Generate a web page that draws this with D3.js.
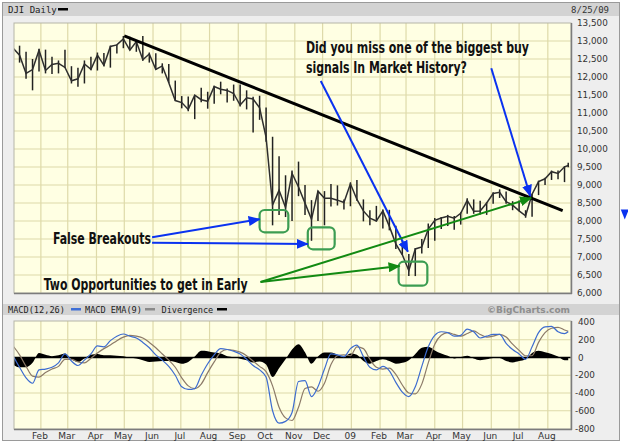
<!DOCTYPE html>
<html>
<head>
<meta charset="utf-8">
<script src="https://cdn.jsdelivr.net/npm/d3@7"></script>
<style>
  html, body { margin: 0; padding: 0; background: #fff; }
  svg { display: block; }
</style>
</head>
<body>
<svg id="chart" width="628" height="446"></svg>
<script>
// weekly bars (week ending)
var weeks = ["2008-01-04","2008-01-11","2008-01-18","2008-01-25","2008-02-01","2008-02-08","2008-02-15","2008-02-22","2008-02-29",
  "2008-03-07","2008-03-14","2008-03-21","2008-03-28","2008-04-04","2008-04-11","2008-04-18","2008-04-25","2008-05-02",
  "2008-05-09","2008-05-16","2008-05-23","2008-05-30","2008-06-06","2008-06-13","2008-06-20","2008-06-27","2008-07-04",
  "2008-07-11","2008-07-18","2008-07-25","2008-08-01","2008-08-08","2008-08-15","2008-08-22","2008-08-29","2008-09-05",
  "2008-09-12","2008-09-19","2008-09-26","2008-10-03","2008-10-10","2008-10-17","2008-10-24","2008-10-31","2008-11-07",
  "2008-11-14","2008-11-21","2008-11-28","2008-12-05","2008-12-12","2008-12-19","2008-12-26","2009-01-02","2009-01-09",
  "2009-01-16","2009-01-23","2009-01-30","2009-02-06","2009-02-13","2009-02-20","2009-02-27","2009-03-06","2009-03-13",
  "2009-03-20","2009-03-27","2009-04-03","2009-04-10","2009-04-17","2009-04-24","2009-05-01","2009-05-08","2009-05-15",
  "2009-05-22","2009-05-29","2009-06-05","2009-06-12","2009-06-19","2009-06-26","2009-07-03","2009-07-10","2009-07-17",
  "2009-07-24","2009-07-31","2009-08-07","2009-08-14","2009-08-21","2009-08-25"];

var high = [13280,12870,12700,12500,12780,12760,12560,12460,12760,12300,12260,12460,12560,12680,12670,12870,12900,13140,
  13120,13000,13140,12680,12660,12380,12360,11900,11470,11460,11500,11700,11590,11760,11870,11680,11790,11790,
  11630,11450,11480,11150,10340,9800,9270,9400,9650,9000,8580,8840,8830,9030,8990,8600,9070,9140,
  8600,8300,8420,8320,8310,7870,7470,7080,7250,7500,7930,8080,8110,8170,8140,8240,8630,8600,
  8560,8520,8800,8880,8820,8550,8570,8300,8760,9120,9200,9400,9400,9520,9620];

var low = [12780,12400,11950,11630,12150,12100,12080,12100,12250,11820,11730,11820,12190,12180,12300,12260,12650,12800,
  12740,12700,12450,12400,12200,12100,11830,11340,11130,11050,10830,11300,11120,11260,11520,11290,11340,11180,
  11100,10460,10810,10200,7880,8170,8110,8000,8690,8170,7450,8000,7880,8400,8430,8320,8410,8560,
  7990,7880,7990,7790,7740,7220,7060,6470,6470,7100,7250,7450,7780,7860,7760,7900,8200,8200,
  8180,8170,8480,8640,8480,8300,8270,8090,8120,8720,9000,9140,9160,9080,9490];

var close = [12800,12606,12099,12207,12743,12182,12348,12381,12266,11894,11951,12361,12216,12609,12325,12849,12891,13058,
  12745,12986,12479,12638,12209,12307,11842,11346,11289,11100,11496,11370,11326,11734,11659,11628,11543,11220,
  11421,11388,11143,10325,8451,8852,8378,9325,8943,8497,8046,8829,8635,8629,8579,8515,9034,8599,
  8281,8077,8000,8280,7850,7366,7062,6627,7223,7278,7776,8017,8083,8131,8076,8212,8575,8268,
  8277,8500,8763,8799,8540,8438,8280,8146,8744,9093,9172,9370,9321,9505,9540];

var macd = [20,-110,-230,-290,-140,-130,-110,-60,40,-40,-90,-30,40,130,120,190,240,265,
  240,220,170,110,30,-30,-100,-200,-330,-360,-350,-200,-70,30,100,90,70,40,
  -20,-90,-140,-220,-600,-740,-720,-620,-270,-260,-440,-330,-130,40,30,10,100,140,
  10,-110,-140,-100,-150,-280,-390,-440,-330,-100,120,250,290,280,240,250,320,290,
  220,240,260,260,160,90,40,-20,120,280,345,350,290,270,290];

var signal = [130,30,-100,-210,-220,-170,-130,-100,-20,-20,-50,-60,-10,50,100,140,190,230,
  250,240,220,170,110,40,-30,-110,-230,-320,-350,-300,-170,-50,60,90,80,60,
  20,-40,-100,-160,-320,-560,-680,-710,-560,-350,-330,-380,-290,-80,20,30,20,120,
  100,-20,-110,-130,-120,-190,-310,-400,-410,-300,-60,150,250,280,260,240,270,300,
  260,230,240,260,230,150,80,20,20,170,280,330,340,310,295];

var divergence = [-80,-110,-110,-60,50,30,15,25,45,-20,-50,-10,30,40,25,25,20,15,
  0,-10,-30,-50,-45,-40,-40,-50,-70,-50,10,75,70,55,45,15,5,-15,
  -30,-55,-45,-80,-220,-120,-20,90,150,60,-70,10,55,55,30,5,45,30,
  -40,-70,-40,-20,-40,-70,-60,-30,40,110,120,80,45,20,-10,5,20,-10,
  -30,-20,-5,-5,-40,-55,-40,-20,50,75,60,40,10,-30,-30];

var monthStarts = ["2008-02-01","2008-03-01","2008-04-01","2008-05-01","2008-06-01","2008-07-01","2008-08-01","2008-09-01",
  "2008-10-01","2008-11-01","2008-12-01","2009-01-01","2009-02-01","2009-03-01","2009-04-01","2009-05-01","2009-06-01",
  "2009-07-01","2009-08-01"];
var monthLabels = ["Feb","Mar","Apr","May","Jun","Jul","Aug","Sep","Oct","Nov","Dec","09","Feb","Mar","Apr","May","Jun","Jul","Aug"];

var priceTicks = [6000,6500,7000,7500,8000,8500,9000,9500,10000,10500,11000,11500,12000,12500,13000,13500];
var macdTicks = [-800,-600,-400,-200,0,200,400];

// hand-drawn notes, in chart units
var trendLine = [["2008-05-01",13140],["2009-08-17",8290]];
var boxes = [
  ["2008-09-24","2008-10-25",8306,7686],
  ["2008-11-15","2008-12-14",7825,7214],
  ["2009-02-21","2009-03-24",6869,6203]
];
var blueArrows = [
  [["2008-05-31",7550],["2008-09-24",8050]],
  [["2008-05-31",7397],["2008-11-15",7361]],
  [["2008-11-29",11889],["2009-03-03",7147]],
  [["2009-06-01",12242],["2009-07-13",8694]]
];
var greenArrows = [
  [["2008-09-25",6306],["2009-02-22",6750]],
  [["2008-09-25",6306],["2009-07-14",8639]]
];
var notes = [
  {text: "Did you miss one of the biggest buy", at: ["2008-11-13",12667], len: 223, size: 16},
  {text: "signals In Market History?", at: ["2008-11-13",12119], len: 161, size: 16},
  {text: "False Breakouts", at: ["2008-02-14",7361], len: 98, size: 15},
  {text: "Two Opportunities to get in Early", at: ["2008-02-04",6083], len: 204, size: 15}
];

var parse = d3.timeParse("%Y-%m-%d");
var svg = d3.select("#chart");

var left = 14, right = 571;
var x = d3.scaleTime().domain([new Date(2008,0,3), new Date(2009,7,26)]).range([left, right]);
var y = d3.scaleLinear().domain([6000,13500]).range([293,23]);
var ym = d3.scaleLinear().domain([-800,400]).range([428.5,322]);

var rows = weeks.map(function(w, i) {
  return {date: d3.timeDay.offset(parse(w), -2), hi: high[i], lo: low[i], cl: close[i],
          m: macd[i], s: signal[i], dv: divergence[i]};
});

var axisFont = "'DejaVu Sans', Verdana, sans-serif";
var monoFont = "'DejaVu Sans Mono', monospace";

// panel + header bars
svg.append("rect").attr("x",2.5).attr("y",2.5).attr("width",617).attr("height",438)
  .attr("fill","#eeeeee").attr("stroke","#9a9a9a");
svg.append("rect").attr("x",3).attr("y",3).attr("width",616).attr("height",13).attr("fill","#d3d3d3");
svg.append("rect").attr("x",3).attr("y",304).attr("width",616).attr("height",11).attr("fill","#d3d3d3");

svg.append("text").attr("x",8).attr("y",13).attr("font-family",monoFont).attr("font-size",9).attr("fill","#222").text("DJI Daily");
svg.append("rect").attr("x",58).attr("y",8).attr("width",10).attr("height",2.5).attr("fill","#000");
svg.append("text").attr("x",609).attr("y",13).attr("text-anchor","end").attr("font-family",monoFont)
  .attr("font-size",9).attr("fill","#333").text("8/25/09");

// MACD legend
var lg = svg.append("g").attr("font-family",monoFont).attr("font-size",8.6).attr("fill","#222");
lg.append("text").attr("x",8).attr("y",312.5).text("MACD(12,26)");
lg.append("rect").attr("x",71).attr("y",308).attr("width",10).attr("height",2.5).attr("fill","#3f6fd6");
lg.append("text").attr("x",85).attr("y",312.5).text("MACD EMA(9)");
lg.append("rect").attr("x",145).attr("y",308).attr("width",10).attr("height",2.5).attr("fill","#8a8a8a");
lg.append("text").attr("x",161.5).attr("y",312.5).text("Divergence");
lg.append("rect").attr("x",217).attr("y",308).attr("width",10).attr("height",2.5).attr("fill","#000");
svg.append("text").attr("x",570).attr("y",313).attr("text-anchor","end").attr("font-family",axisFont)
  .attr("font-weight","bold").attr("font-size",9).attr("fill","#8e8e8e").text("\u00a9BigCharts.com");

// clip paths
var defs = svg.append("defs");
defs.append("clipPath").attr("id","clipP").append("rect")
  .attr("x",left).attr("y",23).attr("width",right-left).attr("height",270);
defs.append("clipPath").attr("id","clipM").append("rect")
  .attr("x",left).attr("y",321).attr("width",right-left).attr("height",108);

function panel(y0, y1) {
  svg.append("rect").attr("x",left).attr("y",y0).attr("width",right-left).attr("height",y1-y0)
    .attr("fill","#ffffe3");
}
panel(23, 293);
panel(321, 429);

var gridColor = "#dedaa9";

// price grid
svg.append("g").selectAll("line").data(priceTicks.slice(1,-1)).join("line")
  .attr("x1",left).attr("x2",right).attr("y1",function(d){return y(d);}).attr("y2",function(d){return y(d);})
  .attr("stroke",gridColor).attr("stroke-width",1.2);
svg.append("g").selectAll("line").data(monthStarts).join("line")
  .attr("x1",function(d){return x(parse(d));}).attr("x2",function(d){return x(parse(d));})
  .attr("y1",23).attr("y2",293).attr("stroke",gridColor).attr("stroke-width",1.2);

// macd grid
svg.append("g").selectAll("line").data(macdTicks.filter(function(d){return d !== 0 && d > -800 && d < 400;})).join("line")
  .attr("x1",left).attr("x2",right).attr("y1",function(d){return ym(d);}).attr("y2",function(d){return ym(d);})
  .attr("stroke",gridColor).attr("stroke-width",1.2);
svg.append("g").selectAll("line").data(monthStarts).join("line")
  .attr("x1",function(d){return x(parse(d));}).attr("x2",function(d){return x(parse(d));})
  .attr("y1",321).attr("y2",429).attr("stroke",gridColor).attr("stroke-width",1.2);

// price bars
var pg = svg.append("g").attr("clip-path","url(#clipP)");
pg.selectAll("line.bar").data(rows).join("line").attr("class","bar")
  .attr("x1",function(d){return x(d.date);}).attr("x2",function(d){return x(d.date);})
  .attr("y1",function(d){return y(d.hi);}).attr("y2",function(d){return y(d.lo);})
  .attr("stroke","#222").attr("stroke-width",1.5);
pg.append("path").datum(rows)
  .attr("d", d3.line().x(function(d){return x(d.date);}).y(function(d){return y(d.cl);}))
  .attr("fill","none").attr("stroke","#2e2e2e").attr("stroke-width",1.5);

// macd
var mg = svg.append("g").attr("clip-path","url(#clipM)");
mg.append("path").datum(rows)
  .attr("d", d3.area().curve(d3.curveMonotoneX).x(function(d){return x(d.date);})
    .y0(ym(0)).y1(function(d){return ym(d.dv);}))
  .attr("fill","#000");
mg.append("line").attr("x1",left).attr("x2",right).attr("y1",ym(0)).attr("y2",ym(0))
  .attr("stroke","#000").attr("stroke-width",1.5);
mg.append("path").datum(rows)
  .attr("d", d3.line().curve(d3.curveMonotoneX).x(function(d){return x(d.date);}).y(function(d){return ym(d.s);}))
  .attr("fill","none").attr("stroke","#8c7a68").attr("stroke-width",1.2);
mg.append("path").datum(rows)
  .attr("d", d3.line().curve(d3.curveMonotoneX).x(function(d){return x(d.date);}).y(function(d){return ym(d.m);}))
  .attr("fill","none").attr("stroke","#3d6cd0").attr("stroke-width",1.2);

// borders
[[23,293],[321,429]].forEach(function(r) {
  svg.append("rect").attr("x",left).attr("y",r[0]).attr("width",right-left).attr("height",r[1]-r[0])
    .attr("fill","none").attr("stroke","#b5b5a8");
  svg.append("line").attr("x1",left).attr("x2",right+1).attr("y1",r[1]+0.5).attr("y2",r[1]+0.5)
    .attr("stroke","#7c7c7c").attr("stroke-width",1.5);
  svg.append("line").attr("x1",right+0.5).attr("x2",right+0.5).attr("y1",r[0]).attr("y2",r[1]+1)
    .attr("stroke","#7c7c7c").attr("stroke-width",1.5);
});

// right axes
svg.append("g").selectAll("text").data(priceTicks).join("text")
  .attr("x",577).attr("y",function(d){return y(d) + 3;})
  .attr("font-family",axisFont).attr("font-size",8.8).attr("fill","#333")
  .text(function(d){return d3.format(",")(d);});
svg.append("g").selectAll("text").data(macdTicks).join("text")
  .attr("x",function(d){return d < 0 ? 575 : 578;}).attr("y",function(d){return ym(d) + 3;})
  .attr("font-family",axisFont).attr("font-size",8.8).attr("fill","#333")
  .text(function(d){return d < 0 ? "-" + Math.abs(d) : d;});

// month labels
svg.append("g").selectAll("text").data(monthStarts).join("text")
  .attr("x",function(d){return x(parse(d)) - 1;}).attr("y",438.5).attr("text-anchor","middle")
  .attr("font-family",axisFont).attr("font-size",9).attr("fill","#333")
  .text(function(d,i){return monthLabels[i];});

// ---- annotations ----
function pt(p) { return [x(parse(p[0])), y(p[1])]; }

function arrowHead(color) {
  var id = "ah" + color.replace("#","");
  defs.append("marker").attr("id",id).attr("markerUnits","userSpaceOnUse")
    .attr("viewBox","0 0 12 10").attr("refX",11).attr("refY",5)
    .attr("markerWidth",12).attr("markerHeight",10).attr("orient","auto")
    .append("path").attr("d","M0,0 L12,5 L0,10 Z").attr("fill",color);
  return "url(#" + id + ")";
}
var blueHead = arrowHead("#0a32f0");
var greenHead = arrowHead("#128a12");

var ag = svg.append("g");
ag.append("line")
  .attr("x1",pt(trendLine[0])[0]).attr("y1",pt(trendLine[0])[1])
  .attr("x2",pt(trendLine[1])[0]).attr("y2",pt(trendLine[1])[1])
  .attr("stroke","#000").attr("stroke-width",3);

ag.selectAll("rect.box").data(boxes).join("rect").attr("class","box")
  .attr("x",function(d){return x(parse(d[0]));}).attr("y",function(d){return y(d[2]);})
  .attr("width",function(d){return x(parse(d[1])) - x(parse(d[0]));})
  .attr("height",function(d){return y(d[3]) - y(d[2]);})
  .attr("rx",5).attr("fill","none").attr("stroke","#3c9d52").attr("stroke-width",2.2);

ag.selectAll("line.blue").data(blueArrows).join("line").attr("class","blue")
  .attr("x1",function(d){return pt(d[0])[0];}).attr("y1",function(d){return pt(d[0])[1];})
  .attr("x2",function(d){return pt(d[1])[0];}).attr("y2",function(d){return pt(d[1])[1];})
  .attr("stroke","#0a32f0").attr("stroke-width",2).attr("marker-end",blueHead);

ag.selectAll("line.green").data(greenArrows).join("line").attr("class","green")
  .attr("x1",function(d){return pt(d[0])[0];}).attr("y1",function(d){return pt(d[0])[1];})
  .attr("x2",function(d){return pt(d[1])[0];}).attr("y2",function(d){return pt(d[1])[1];})
  .attr("stroke","#128a12").attr("stroke-width",2).attr("marker-end",greenHead);

// stray arrow tip on the right margin
var tip = pt(["2009-10-23",8150]);
ag.append("path").attr("d","M" + (tip[0]-4) + "," + (tip[1]-6) + " L" + (tip[0]+4) + "," + (tip[1]-6) + " L" + tip[0] + "," + (tip[1]+4) + " Z")
  .attr("fill","#0a32f0");

ag.selectAll("text.note").data(notes).join("text").attr("class","note")
  .attr("x",function(d){return pt(d.at)[0];}).attr("y",function(d){return pt(d.at)[1];})
  .attr("font-family","'Liberation Sans Narrow', 'Arial Narrow', 'DejaVu Sans Condensed', sans-serif")
  .attr("font-weight","bold").attr("font-size",function(d){return d.size;})
  .attr("textLength",function(d){return d.len;}).attr("lengthAdjust","spacingAndGlyphs")
  .attr("fill","#111").text(function(d){return d.text;});
</script>
</body>
</html>
